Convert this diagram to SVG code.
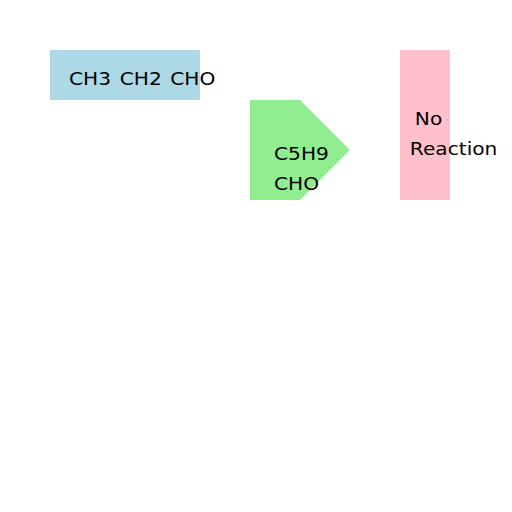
<svg xmlns="http://www.w3.org/2000/svg" width="512" height="512" viewBox="0 0 512 512">
<style>
text { font-family: "DejaVu Sans", sans-serif; font-size: 18.5px; fill: #000; }
</style>
<rect width="512" height="512" fill="#fff"/>
<g id="node-ch3ch2cho">
<rect x="50" y="50" width="150" height="50" fill="#add8e6"/>
<text transform="translate(69,84.5) scale(1.09,1)" x="0" y="0" word-spacing="2">CH3 CH2 CHO</text>
</g>
<g id="node-c5h9cho">
<polygon points="250,100 300,100 350,150 300,200 250,200" fill="#90ee90"/>
<text transform="translate(274,160) scale(1.09,1)" x="0" y="0">C5H9</text>
<text transform="translate(274,189.5) scale(1.09,1)" x="0" y="0">CHO</text>
</g>
<g id="node-noreaction">
<rect x="400" y="50" width="50" height="150" fill="#ffc0cb"/>
<text transform="translate(414.8,125) scale(1.09,1)" x="0" y="0">No</text>
<text transform="translate(409.8,154.5) scale(1.09,1)" x="0" y="0">Reaction</text>
</g>
<g id="connectors"></g>
</svg>
